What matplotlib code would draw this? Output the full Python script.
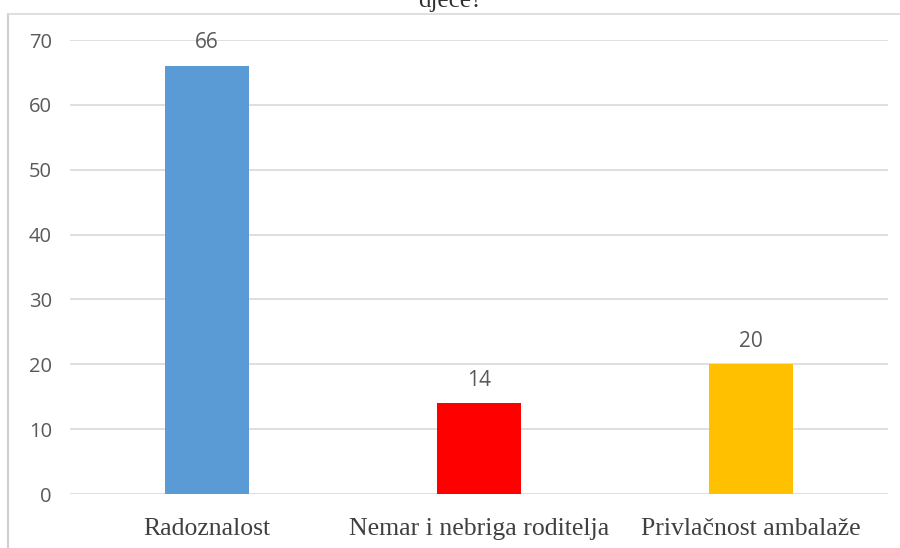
import matplotlib.pyplot as plt
from matplotlib.lines import Line2D

categories = ["Radoznalost", "Nemar i nebriga roditelja", "Privlačnost ambalaže"]
values = [66, 14, 20]
bar_colors = ["#5B9BD5", "#FF0000", "#FFC000"]
yticks = [0, 10, 20, 30, 40, 50, 60, 70]

W, H = 900, 548
fig = plt.figure(figsize=(W / 100, H / 100), dpi=100)
ax = fig.add_axes([70 / W, 1 - 494 / H, (888 - 70) / W, (494 - 40) / H])

x = range(len(categories))
ax.bar(x, values, width=0.31, color=bar_colors, zorder=3)
for xi, v in zip(x, values):
    ax.annotate(str(v), (xi, v), xytext=(0, 9), textcoords="offset points",
                ha="center", va="bottom", fontsize=15, color="#595959",
                family="Open Sans")

ax.set_xlim(-0.505, 2.505)
ax.set_ylim(0, 70)
ax.set_yticks(yticks)
ax.grid(axis="y", color="#D9D9D9", linewidth=1.2, zorder=0)
for s in ax.spines.values():
    s.set_visible(False)
ax.tick_params(length=0)
ax.tick_params(axis="y", pad=13, labelsize=14.5, labelcolor="#595959")
ax.tick_params(axis="x", pad=17, labelsize=18.5, labelcolor="#404040")
for lbl in ax.get_yticklabels():
    lbl.set_family("Open Sans")
ax.set_xticks(list(x))
ax.set_xticklabels(categories, family="Liberation Serif")

# cropped chart frame and title remnant
fig.add_artist(Line2D([8 / W, 8 / W], [0, 1 - 14 / H], color="#D0D0D0", lw=1.5))
fig.add_artist(Line2D([8 / W, 1], [1 - 14 / H, 1 - 14 / H], color="#D9D9D9", lw=1.2))
fig.text(450 / W, 1 - 7 / H, "djece?", ha="center", va="baseline",
         fontsize=18, family="Liberation Serif", color="#303030")

fig.savefig("out.png", dpi=100)
